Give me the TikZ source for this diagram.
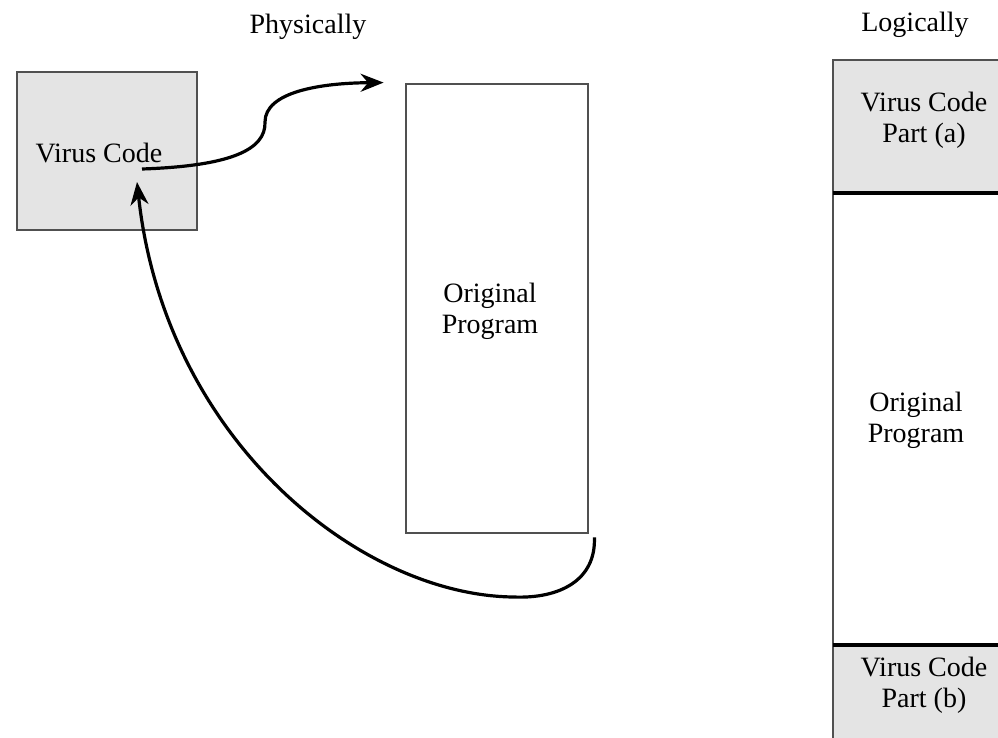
\documentclass[tikz,border=0pt]{standalone}
\usepackage{fontspec}
\setmainfont{Liberation Serif}
\usetikzlibrary{arrows.meta}
\definecolor{boxgray}{HTML}{E4E4E4}
\definecolor{edgegray}{HTML}{505050}
\tikzset{
  lbl/.style={font=\fontsize{28}{31}\selectfont, align=center, inner sep=0pt},
  graybox/.style={draw=edgegray, line width=2.8pt, fill=boxgray},
  whitebox/.style={draw=edgegray, line width=2.8pt, fill=white},
  conn/.style={line width=3.2pt, -{Stealth[length=23pt,width=18pt]}},
}
\begin{document}
\begin{tikzpicture}[x=1pt,y=-1pt]
\useasboundingbox (0,0) rectangle (998,738);
% left (physical)
\node[lbl] (phys) at (308,27) {Physically};
\node[graybox, minimum width=180pt, minimum height=158pt, inner sep=0pt] (vcbox) at (107,151) {};
\node[lbl] (vc) at (99,153) {Virus Code};
\node[whitebox, minimum width=182pt, minimum height=449pt, inner sep=0pt] (opbox) at (497,308.5) {};
\node[lbl] (op) at (490,311) {Original\\Program};
% right (logical)
\node[lbl] (logi) at (915,25) {Logically};
\draw[graybox] (833,60) rectangle (1020,193);
\draw[whitebox] (833,193) rectangle (1020,645);
\draw[graybox] (833,645) rectangle (1020,760);
\draw[black, line width=3.2pt] (833,193) -- (1020,193);
\draw[black, line width=3.2pt] (833,645) -- (1020,645);
\node[lbl] (vca) at (924,120) {Virus Code\\Part (a)};
\node[lbl] (opr) at (916,420) {Original\\Program};
\node[lbl] (vcb) at (924,685) {Virus Code\\Part (b)};
% connectors
\coordinate (a1s) at (142,169);
\coordinate (a1e) at ([xshift=-21pt]opbox.north west);
\coordinate (a2s) at ([xshift=5pt,yshift=-3pt]opbox.south east);
\coordinate (a2e) at (137,182);
\draw[conn] (a1s) .. controls (230,166) and (266,150) .. (265,122)
  .. controls (265,92) and (320,83) .. (a1e);
\draw[conn] (a2s) .. controls (596,580) and (560,599) .. (513,597)
  .. controls (360,595) and (165,440) .. (a2e);
\end{tikzpicture}
\end{document}
